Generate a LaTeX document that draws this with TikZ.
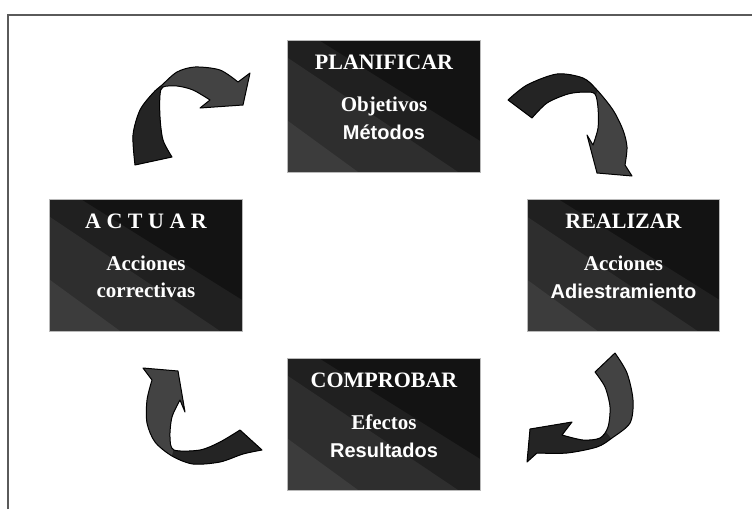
\documentclass[tikz,border=0pt]{standalone}
\usepackage{fontspec}
\setmainfont{Liberation Serif}
\setsansfont{Liberation Sans}
\usetikzlibrary{calc}

\definecolor{ribdark}{HTML}{242424}
\definecolor{riblight}{HTML}{434343}
\definecolor{bandA}{HTML}{3C3C3C}
\definecolor{bandB}{HTML}{2E2E2E}
\definecolor{bandC}{HTML}{202020}
\definecolor{bandD}{HTML}{131313}
\definecolor{framegray}{HTML}{5A5A5A}

% diagonal shading bands of a stage box, then its thin edge
\newcommand\stagebands[1]{%
  \begin{scope}[shift={(#1.north west)}]
    \fill[bandD] (0,0) rectangle (192,131);
    \fill[bandC] (0,0) -- (32,0) -- (192,100) -- (192,131) -- (0,131) -- cycle;
    \fill[bandB] (0,17) -- (170,131) -- (0,131) -- cycle;
    \fill[bandA] (0,80) -- (70,131) -- (0,131) -- cycle;
  \end{scope}
  \draw[boxedge] (#1.north west) rectangle (#1.south east);}

% twisted ribbon arrow: #1 outline, #2 region of the darker half
\newcommand\ribbon[2]{%
  \fill[riblight] #1;
  \begin{scope}
    \clip #2;
    \fill[ribdark] #1;
  \end{scope}
  \draw[ribline] #1;}

\begin{document}
\begin{tikzpicture}[x=1pt,y=-1pt,
  stagebox/.style={minimum width=192pt,minimum height=131pt,inner sep=0pt,draw=none},
  boxedge/.style={draw=gray!55,line width=0.8pt},
  boxtitle/.style={text=white,font=\bfseries\fontsize{22}{22}\selectfont,anchor=base,inner sep=0pt},
  boxserif/.style={text=white,font=\bfseries\fontsize{21}{21}\selectfont,anchor=base,inner sep=0pt},
  boxsans/.style={text=white,font=\sffamily\bfseries\fontsize{20}{20}\selectfont,anchor=base,inner sep=0pt},
  ribline/.style={draw=black,line width=1pt,line join=round}]

\useasboundingbox (0,0) rectangle (752,509);
\fill[white] (0,0) rectangle (752,509);

% outer frame
\draw[framegray,line width=2.2pt] (8,509) -- (8,15) -- (752,15);

% stage boxes
\node[stagebox] (plan) at (384,106.5) {};
\node[stagebox] (real) at (623.5,265.5) {};
\node[stagebox] (comp) at (384,424.5) {};
\node[stagebox] (act)  at (146,265.5) {};

\stagebands{plan}
\stagebands{real}
\stagebands{comp}
\stagebands{act}

% texts
\node[boxtitle] (planT) at ($(plan.north)+(0,29)$) {PLANIFICAR};
\node[boxserif] (planA) at ($(plan.north)+(0,71)$) {Objetivos};
\node[boxsans]  (planB) at ($(plan.north)+(0,99)$) {Métodos};

\node[boxtitle] (realT) at ($(real.north)+(0,29)$) {REALIZAR};
\node[boxserif] (realA) at ($(real.north)+(0,71)$) {Acciones};
\node[boxsans]  (realB) at ($(real.north)+(0,99)$) {Adiestramiento};

\node[boxtitle] (compT) at ($(comp.north)+(0,29)$) {COMPROBAR};
\node[boxserif] (compA) at ($(comp.north)+(0,71)$) {Efectos};
\node[boxsans]  (compB) at ($(comp.north)+(0,99)$) {Resultados};

\node[boxtitle] (actT) at ($(act.north)+(0,29)$) {A C T U A R};
\node[boxserif] (actA) at ($(act.north)+(0,71)$) {Acciones};
\node[boxserif] (actB) at ($(act.north)+(0,98)$) {correctivas};

% ribbon arrows between the stages
\ribbon{(135,165) -- plot[smooth] coordinates {(135,165) (133,135) (140,110) (153,93) (162,85) (177,72) (195,67) (220,70) (238,82)}
  -- (250,73) -- (243,105) -- (200,108) -- (210,100)
  -- plot[smooth] coordinates {(210,100) (193,90) (177,86) (163,87) (160,95) (160,117) (163,140) (172,157)} -- cycle}
  {(100,220) -- (100,70) -- (163,86) -- (175,120) -- (200,220) -- cycle}

\ribbon{(508,100) -- plot[smooth] coordinates {(508,100) (527,85) (557,74) (583,78) (597,90) (613,110) (623,130) (627,147) (625,165)}
  -- (632,176) -- (597,173) -- (587,135) -- (593,145)
  -- plot[smooth] coordinates {(593,145) (598,128) (598,108) (595,94) (585,92) (568,94) (547,103) (532,118)} -- cycle}
  {(480,40) -- (600,40) -- (597,92) -- (560,200) -- (480,200) -- cycle}

\ribbon{(615,353) -- plot[smooth] coordinates {(615,353) (627,373) (633,400) (630,423) (612,438) (597,447) (567,453) (537,453)}
  -- (527,462) -- (530,429) -- (572,422) -- (562,435)
  -- plot[smooth] coordinates {(562,435) (583,440) (600,438) (608,427) (610,407) (605,387) (595,372)} -- cycle}
  {(500,400) -- (580,400) -- (610,437) -- (650,500) -- (500,500) -- cycle}

\ribbon{(262,450) -- plot[smooth] coordinates {(262,450) (243,454) (220,462) (193,464) (172,456) (155,442) (147,423) (147,400) (152,380)}
  -- (143,368) -- (178,371) -- (185,412) -- (180,400)
  -- plot[smooth] coordinates {(180,400) (172,417) (170,437) (174,450) (200,450) (220,442) (240,430)} -- cycle}
  {(178,425) -- (300,425) -- (300,500) -- (160,500) -- (173,452) -- cycle}

\end{tikzpicture}
\end{document}
